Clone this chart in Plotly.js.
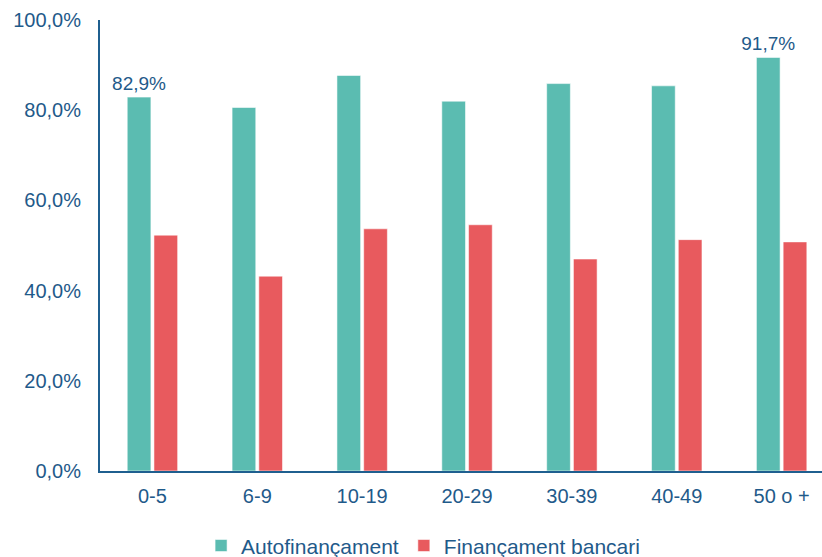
<!DOCTYPE html>
<html>
<head>
<meta charset="utf-8">
<script src="https://cdn.plot.ly/plotly-3.0.1.min.js"></script>
<style>html,body{margin:0;padding:0;background:#fff;}#chart{width:822px;height:557px;}</style>
</head>
<body>
<div id="chart"></div>
<script>
const categories = ['0-5', '6-9', '10-19', '20-29', '30-39', '40-49', '50 o +'];
const autofinancament = [82.9, 80.6, 87.7, 82.0, 85.9, 85.4, 91.7];
const financamentBancari = [52.3, 43.2, 53.7, 54.6, 47.0, 51.3, 50.8];
const autoLabels = ['82,9%', '', '', '', '', '', '91,7%'];
const yTicks = [0, 20, 40, 60, 80, 100];
const yTickText = ['0,0%', '20,0%', '40,0%', '60,0%', '80,0%', '100,0%'];

const textColor = '#1f5a8a';
const axisColor = '#1f5f8f';

const traces = [
  {
    type: 'bar', name: 'Autofinançament', x: categories, y: autofinancament,
    text: autoLabels, textposition: 'outside', cliponaxis: false, constraintext: 'none',
    textfont: {family: 'Liberation Sans, Arial, sans-serif', size: 19, color: textColor},
    marker: {color: '#5bbcb1', line: {color: 'rgba(255,255,255,0.55)', width: 1}},
    hoverinfo: 'skip'
  },
  {
    type: 'bar', name: 'Finançament bancari', x: categories, y: financamentBancari,
    marker: {color: '#e85a5e', line: {color: 'rgba(255,255,255,0.55)', width: 1}},
    hoverinfo: 'skip'
  }
];

const layout = {
  width: 822, height: 557,
  margin: {l: 100, r: 0, t: 20, b: 86, pad: 0, autoexpand: false},
  paper_bgcolor: '#fff', plot_bgcolor: '#fff',
  separators: ', ',
  font: {family: 'Liberation Sans, Arial, sans-serif', size: 20, color: textColor},
  barmode: 'group', bargap: 0.49, bargroupgap: 0.114,
  showlegend: true,
  legend: {
    orientation: 'h', x: 0.14, xanchor: 'left', y: -0.166, yanchor: 'middle',
    font: {size: 21, color: textColor}
  },
  xaxis: {
    type: 'category', range: [-0.5, 6.385], showgrid: false, zeroline: false,
    showline: true, linecolor: axisColor, linewidth: 2, ticks: '',
    ticklabelstandoff: 6, tickfont: {size: 20, color: textColor}, fixedrange: true
  },
  yaxis: {
    range: [0, 100], tickvals: yTicks, ticktext: yTickText,
    showgrid: false, zeroline: false, showline: true, linecolor: axisColor, linewidth: 2,
    ticks: '', ticklabelstandoff: 13, tickfont: {size: 20, color: textColor}, fixedrange: true
  }
};

Plotly.newPlot('chart', traces, layout, {displayModeBar: false, staticPlot: true});
</script>
</body>
</html>
